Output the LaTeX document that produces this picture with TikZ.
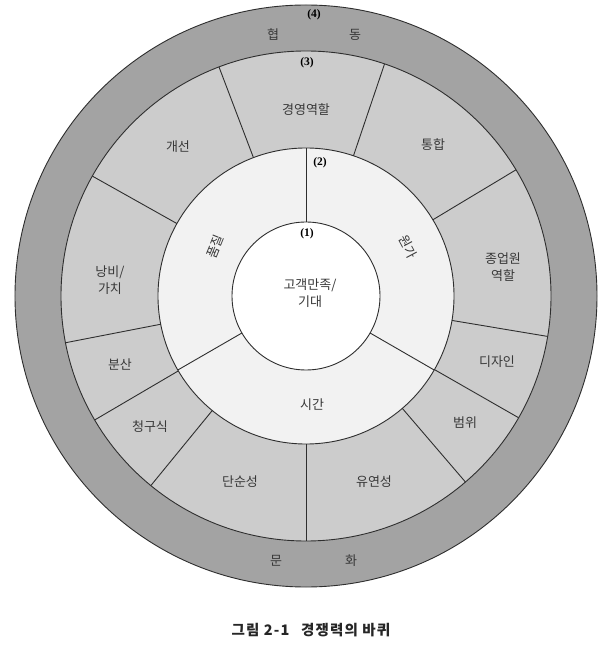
\documentclass[tikz,border=0pt]{standalone}
\usepackage{fontspec}
\newfontfamily\kr{Noto Sans CJK KR}
\newfontfamily\krcap[LetterSpace=8]{Noto Sans CJK KR}
\newfontfamily\numf{Liberation Serif}
\definecolor{outerc}{gray}{0.64}
\definecolor{ringthree}{gray}{0.80}
\definecolor{ringtwo}{gray}{0.95}
\definecolor{linec}{gray}{0.18}
\definecolor{txtc}{gray}{0.22}
\tikzset{
  ringline/.style={draw=linec, line width=0.9pt},
  divline/.style={draw=linec, line width=0.9pt},
  lbl/.style={text=txtc, font=\kr\fontsize{13}{17}\selectfont, inner sep=0pt, align=center},
  numlbl/.style={text=black, font=\numf\bfseries\fontsize{11.5}{13}\selectfont, inner sep=0pt},
  captionlbl/.style={text=black!85, font=\krcap\bfseries\fontsize{14.5}{16}\selectfont, inner sep=0pt}
}
\begin{document}
\begin{tikzpicture}[x=1pt,y=1pt]
\useasboundingbox (-306,-351) rectangle (300,296);
\fill[white] (-306,-351) rectangle (300,296);
% rings
\coordinate (c) at (0,0);
\path[ringline, fill=outerc] (c) circle (291);
\path[ringline, fill=ringthree] (c) circle (245);
\path[ringline, fill=ringtwo] (c) circle (148);
\path[ringline, fill=white] (c) circle (74);
% ring 3 dividers
\foreach \a in {110.8,71.3,31,-9.5,-29.8,-49.4,-90,-129.3,-149.6,-169,150.7}
  \draw[divline] (\a:148) -- (\a:245);
% ring 2 dividers
\foreach \a in {90,210,330}
  \draw[divline] (\a:74) -- (\a:148);
% numbers
\node[numlbl] (n4) at (8,281) {(4)};
\node[numlbl] (n3) at (1,233) {(3)};
\node[numlbl] (n2) at (14,133) {(2)};
\node[numlbl] (n1) at (1,62) {(1)};
% outer ring
\node[lbl] (hyeop) at (-33,261) {협};
\node[lbl] (dong) at (49,261) {동};
\node[lbl] (mun) at (-30,-265) {문};
\node[lbl] (hwa) at (45,-265) {화};
% ring 3
\node[lbl] (gyeong) at (0,186) {경영역할};
\node[lbl] (tonghap) at (127,151) {통합};
\node[lbl] (jongeop) at (197,29) {종업원\\역할};
\node[lbl] (design) at (191,-66) {디자인};
\node[lbl] (beomwi) at (159,-127) {범위};
\node[lbl] (yuyeon) at (68,-186) {유연성};
\node[lbl] (dansun) at (-66,-186) {단순성};
\node[lbl] (cheong) at (-156,-131) {청구식};
\node[lbl] (bunsan) at (-186,-69) {분산};
\node[lbl] (nangbi) at (-196,16) {낭비/\\가치};
\node[lbl] (gaeseon) at (-128,149) {개선};
% ring 2
\node[lbl, rotate=68] (pumjil) at (-91,49) {품질};
\node[lbl, rotate=-62] (wonga) at (102,49) {원가};
\node[lbl] (sigan) at (6,-109) {시간};
% centre
\node[lbl] (gogaek) at (4,3) {고객만족/\\기대};
% caption
\node[captionlbl] (caption) at (5,-334) {그림 2-1\hspace{0.8em}경쟁력의 바퀴};
\end{tikzpicture}
\end{document}
